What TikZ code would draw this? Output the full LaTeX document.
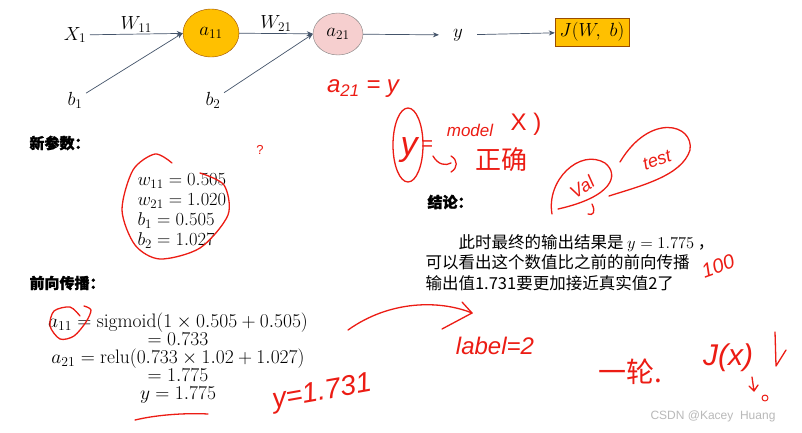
\RequirePackage{fix-cm}
\documentclass[tikz,border=0pt]{standalone}
\usepackage{fontspec}
\usepackage{amsmath}
\usepackage{xcolor}
\usetikzlibrary{shapes.geometric, arrows.meta, positioning}
\newfontfamily\cjk{Noto Sans CJK SC}
\newfontfamily\cjkhead{Noto Sans CJK SC}[FakeBold=1.5]
\newfontfamily\hand{Liberation Sans}
\definecolor{nodeorange}{HTML}{FFC000}
\definecolor{nodepink}{HTML}{F6CFCF}
\definecolor{edgegray}{HTML}{44546A}
\definecolor{pen}{HTML}{EC1C14}

\begin{document}
\begin{tikzpicture}[x=1pt, y=-1pt,
    neuron/.style={ellipse, draw, inner sep=0pt, font=\fontsize{19}{19}\selectfont},
    lbl/.style={font=\fontsize{19}{19}\selectfont},
    link/.style={draw=edgegray, line width=0.7pt, -{Stealth[length=6pt, width=5pt]}},
    head/.style={anchor=west, font=\cjkhead\bfseries\fontsize{15}{15}\selectfont},
    ink/.style={draw=pen, line width=1.3pt, line cap=round, line join=round},
    scribble/.style={text=pen, inner sep=0pt, font=\hand\itshape\fontsize{20}{20}\selectfont},
]
\useasboundingbox[fill=white] (0,0) rectangle (802,432);

% network
\node[neuron, fill=nodeorange, draw=orange!60!black, minimum width=56pt, minimum height=48pt] (a11) at (211,33) {$a_{11}$};
\node[neuron, fill=nodepink, draw=gray, minimum width=50pt, minimum height=42pt] (a21) at (338,34) {$a_{21}$};
\node[lbl] (x1) at (75,35) {$X_1$};
\node[lbl] (b1) at (75,100) {$b_1$};
\node[lbl] (b2) at (213,100) {$b_2$};
\node[lbl, inner xsep=14pt] (y) at (458,35) {$y$};
\node[lbl, draw=orange!60!black, fill=nodeorange, minimum width=74pt, minimum height=28pt, inner xsep=2pt] (J) at (592,32) {$J(W,\ b)$};

\draw[link] (x1) -- node[lbl, above, yshift=-2pt] {$W_{11}$} (a11);
\draw[link] (a11) -- node[lbl, above, yshift=-2pt] {$W_{21}$} (a21);
\draw[link] (b1) -- (a11.west);
\draw[link] (b2) -- (a21.west);
\draw[link] (a21) -- (y);
\draw[link] (y) -- (J);

% slide text
\node[head] (newhead) at (26,143) {新参数：};
\node[anchor=north west, align=left, font=\fontsize{18.5}{20}\selectfont] (params) at (134,170)
    {$w_{11}=0.505$\\ $w_{21}=1.020$\\ $b_1=0.505$\\ $b_2=1.027$};

\node[head] (fwdhead) at (26,283) {前向传播：};
\node[align=center, font=\fontsize{19.5}{18}\selectfont] (fwd) at (178,358)
    {$a_{11}=\mathrm{sigmoid}(1\times 0.505+0.505)$\\ $=0.733$\\
     $a_{21}=\mathrm{relu}(0.733\times 1.02+1.027)$\\ $=1.775$\\ $y=1.775$};

\node[head] (conchead) at (424,202) {结论：};
\node[anchor=north west, align=left, font=\cjk\fontsize{16.5}{20.5}\selectfont] (concl) at (422,231)
    {\hspace{2em}此时最终的输出结果是 $y=1.775$ ，\\
     可以看出这个数值比之前的前向传播\\
     输出值1.731要更加接近真实值2了};

% handwriting
\node[scribble, font=\hand\itshape\fontsize{24}{24}\selectfont] (note1) at (363,89) {a\textsubscript{21} = y};
\draw[ink] (408,145) ellipse (15 and 37);
\node[scribble, font=\hand\itshape\fontsize{34}{34}\selectfont] (yy) at (409,150) {y};
\node[scribble] (eq) at (427,146) {=};
\node[scribble, font=\hand\itshape\fontsize{17}{17}\selectfont] (model) at (470,130) {model};
\node[scribble, font=\hand\fontsize{24}{24}\selectfont] (xarg) at (526,124) {X )};
\draw[ink] (433,156) .. controls (438,165) and (446,166) .. (451,163) (451,156) .. controls (458,160) and (458,168) .. (451,172);
\node[scribble, font=\cjk\fontsize{26}{26}\selectfont] (ok) at (501,160) {正确};
\node[scribble, font=\hand\fontsize{13}{13}\selectfont] (qm) at (260,150) {?};

\draw[ink] (552,214) .. controls (546,180) and (580,148) .. (605,163) .. controls (620,175) and (612,197) .. (558,209);
\node[scribble, rotate=35, font=\hand\itshape\fontsize{18}{18}\selectfont] (val) at (582,187) {Val};
\draw[ink] (592,204) .. controls (596,212) and (593,216) .. (588,214);
\draw[ink] (609,196) .. controls (640,186) and (682,176) .. (690,150) .. controls (694,124) and (650,112) .. (620,162);
\node[scribble, rotate=20, font=\hand\itshape\fontsize{18}{18}\selectfont] (test) at (657,160) {test};

\draw[ink] plot[smooth] coordinates {(172,163) (155,154) (133,170) (122,210) (135,245) (160,259) (200,248) (228,215) (224,185) (200,173)};
\draw[ink] plot[smooth] coordinates {(80,316) (70,307) (54,311) (50,326) (60,339) (74,336) (86,322) (91,310) (84,306)};
\draw[ink] (135,420) .. controls (160,414) and (190,413) .. (208,414);
\node[scribble, rotate=10, font=\hand\itshape\fontsize{28}{28}\selectfont] (old) at (322,393) {y=1.731};
\draw[ink] (348,330) .. controls (390,300) and (440,300) .. (472,313);
\draw[ink] (462,302) -- (472,313) -- (442,329);
\node[scribble, font=\hand\itshape\fontsize{24}{24}\selectfont] (label) at (495,346) {label=2};
\node[scribble, rotate=20] (hundred) at (718,266) {100};
\node[scribble, font=\cjk\fontsize{28}{28}\selectfont] (round) at (630,372) {一轮.};
\node[scribble, font=\hand\itshape\fontsize{30}{30}\selectfont] (jx) at (728,358) {J(x)};
\draw[ink] (775,332) -- (776,366) -- (786,350);
\draw[ink] (752,377) -- (754,391) (749,386) -- (754,391) -- (758,385);
\draw[ink, line width=1pt] (765,398) circle (3);

\node[text=gray!55, font=\hand\fontsize{12}{12}\selectfont] (mark) at (713,416) {CSDN @Kacey\ \ Huang};
\end{tikzpicture}
\end{document}
